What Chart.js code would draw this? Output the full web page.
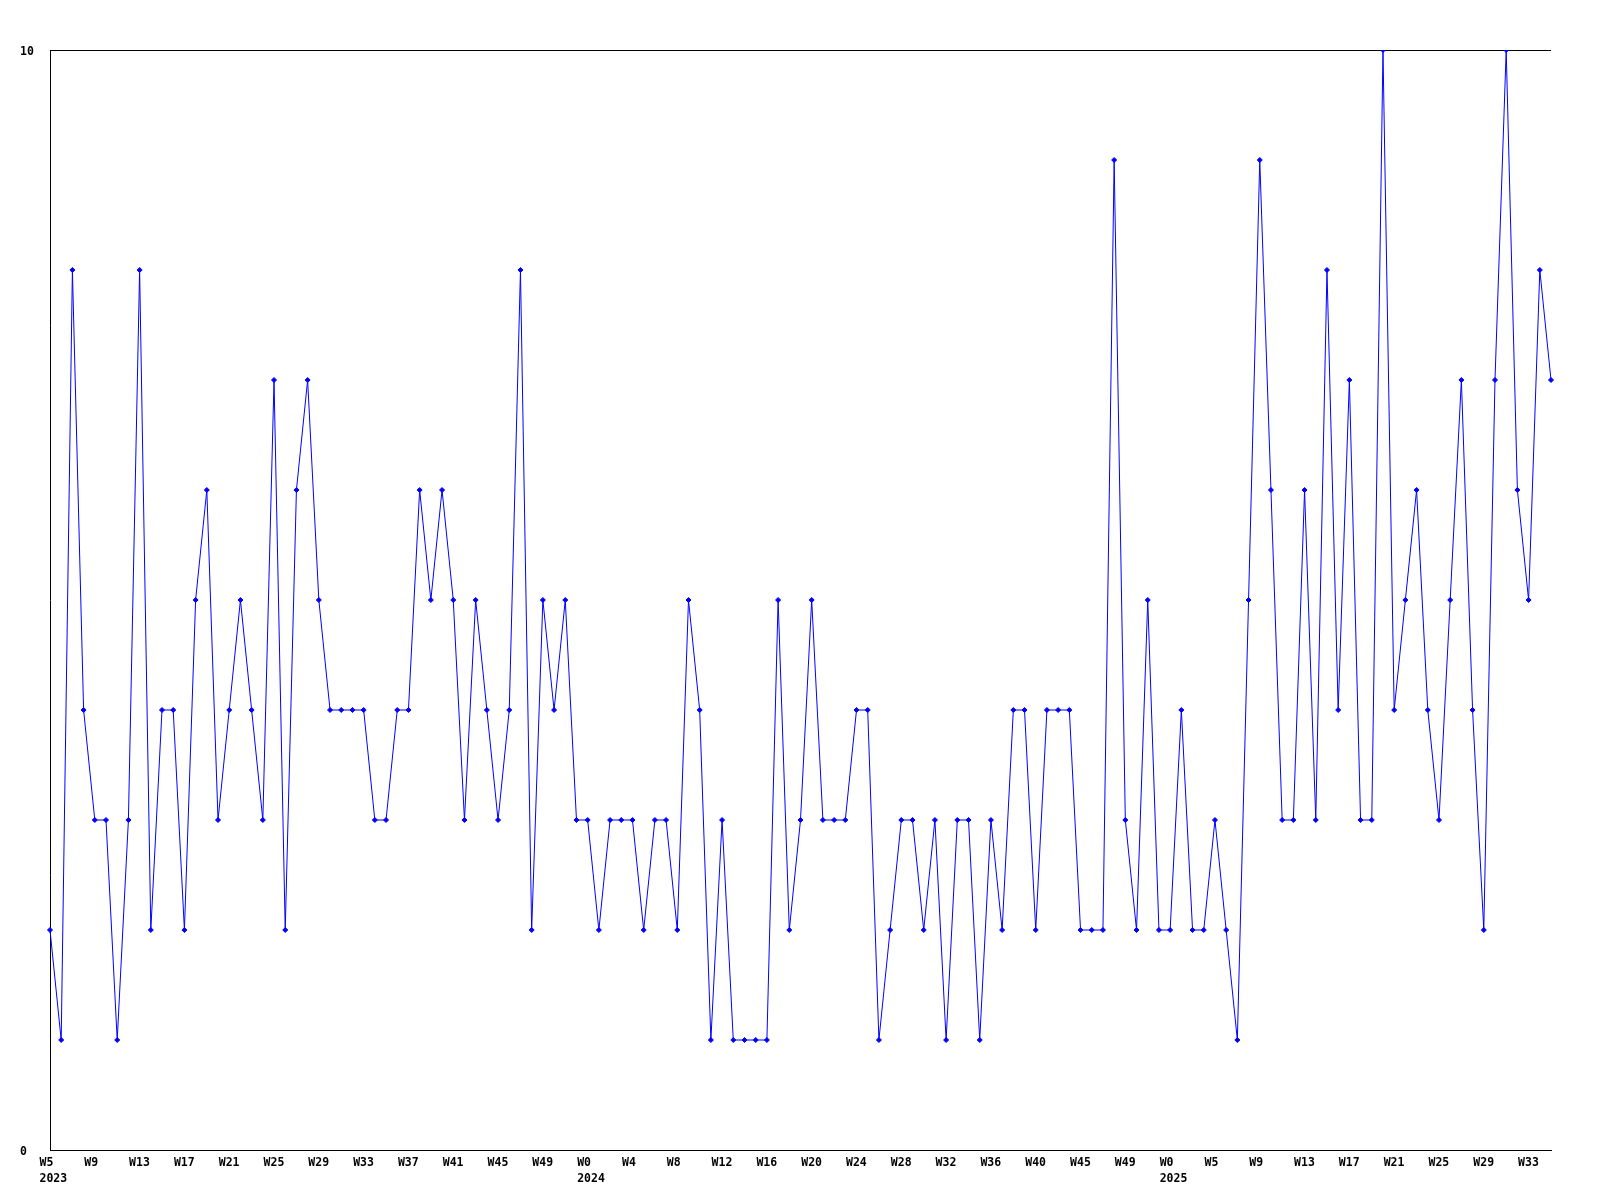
<!DOCTYPE html>
<html>
<head>
<meta charset="utf-8">
<title>Weekly count</title>
<script src="https://cdn.jsdelivr.net/npm/chart.js@4.4.1/dist/chart.umd.min.js"></script>
<style>
  html, body { margin: 0; padding: 0; background: #fff; }
  #chart { display: block; }
</style>
</head>
<body>
<canvas id="chart" width="1600" height="1200"></canvas>
<script>
// weekly values, one per week, split by year
const values2023 = [2,1,8,4,3,3,1,3,8,2,4,4,2,5,6,3,4,5,4,3,7,2,6,7,5,4,4,4,4,3,3,4,4,6,5,6,5,3,5,4,3,4,8,2,5,4,5,3];
const values2024 = [3,2,3,3,3,2,3,3,2,5,4,1,3,1,1,1,1,5,2,3,5,3,3,3,4,4,1,2,3,3,2,3,1,3,3,1,3,2,4,4,2,4,4,4,2,2,2,9,3,2,5,2];
const values2025 = [2,4,2,2,3,2,1,5,9,6,3,3,6,3,8,4,7,3,3,10,4,5,6,4,3,5,7,4,2,7,10,6,5,8,7];

// x tick labels, shown every 4th week
const ticks2023 = ['W5','W9','W13','W17','W21','W25','W29','W33','W37','W41','W45','W49'];
const ticks2024 = ['W0','W4','W8','W12','W16','W20','W24','W28','W32','W36','W40','W45','W49'];
const ticks2025 = ['W0','W5','W9','W13','W17','W21','W25','W29','W33'];
const years = ['2023', '2024', '2025'];

const yTicks = [0, 10];

const FONT = { family: "'DejaVu Sans Mono', monospace", size: 11.5, weight: 'bold', lineHeight: '16px' };

function yearLabels(vals, ticks, year) {
  return vals.map((_, i) => {
    if (i % 4 !== 0) return '';
    const t = ticks[i / 4];
    return i === 0 ? [t, year] : t;
  });
}

const labels = [
  ...yearLabels(values2023, ticks2023, years[0]),
  ...yearLabels(values2024, ticks2024, years[1]),
  ...yearLabels(values2025, ticks2025, years[2])
];
const data = [...values2023, ...values2024, ...values2025];

new Chart(document.getElementById('chart').getContext('2d'), {
  type: 'line',
  data: {
    labels: labels,
    datasets: [{
      data: data,
      borderColor: '#0000ff',
      backgroundColor: '#0000ff',
      borderWidth: 1,
      pointStyle: 'rectRot',
      pointRadius: 2.5,
      pointBorderWidth: 1,
      tension: 0,
      fill: false
    }]
  },
  options: {
    responsive: false,
    animation: false,
    events: [],
    layout: { padding: { left: 20, top: 50, right: 49, bottom: 0 } },
    plugins: { legend: { display: false }, tooltip: { enabled: false } },
    scales: {
      x: {
        grid: { display: false, drawTicks: false },
        border: { display: true, color: '#000', width: 1 },
        ticks: {
          autoSkip: false, maxRotation: 0, minRotation: 0,
          align: 'start', labelOffset: -10.5, padding: 5,
          color: '#000', font: FONT
        },
        afterFit: s => { s.height = 50; }
      },
      y: {
        min: yTicks[0], max: yTicks[1],
        grid: { color: '#000', lineWidth: 1, drawTicks: false },
        border: { display: true, color: '#000', width: 1 },
        ticks: {
          stepSize: yTicks[1] - yTicks[0], crossAlign: 'far', padding: 0,
          labelOffset: 2,
          color: '#000', font: { ...FONT, lineHeight: 1.2 }
        },
        afterFit: s => { s.width = 30; }
      }
    }
  }
});
</script>
</body>
</html>
